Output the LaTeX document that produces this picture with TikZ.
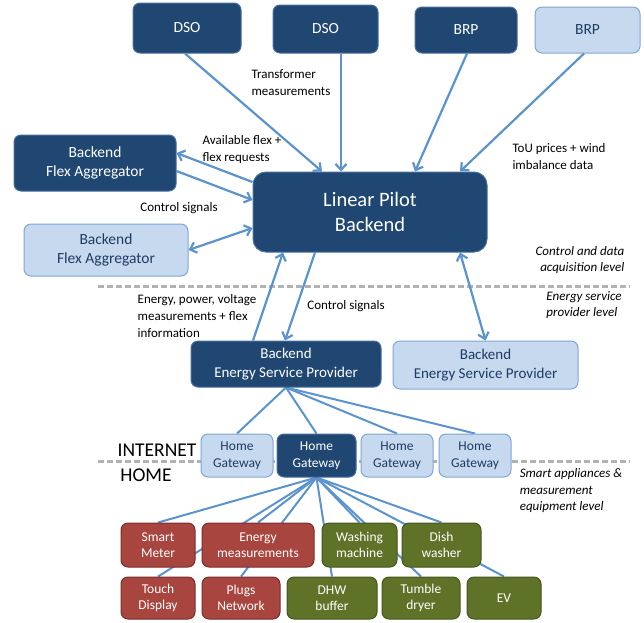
\documentclass[tikz,border=0pt]{standalone}
\usepackage{fontspec}
\setmainfont{Carlito}
\usetikzlibrary{arrows.meta,backgrounds}
\definecolor{darkfill}{RGB}{31,71,113}
\definecolor{darkline}{RGB}{70,110,160}
\definecolor{lightfill}{RGB}{198,217,239}
\definecolor{lightline}{RGB}{126,166,214}
\definecolor{lighttext}{RGB}{30,60,100}
\definecolor{redfill}{RGB}{169,69,63}
\definecolor{redline}{RGB}{120,45,45}
\definecolor{greenfill}{RGB}{95,115,40}
\definecolor{greenline}{RGB}{70,85,30}
\definecolor{wire}{RGB}{90,147,205}
\begin{document}
\begin{tikzpicture}
[x=1pt,y=-1pt,%
  box/.style={rounded corners=7pt,line width=1pt,align=center,inner sep=2pt,%
    font=\fontsize{15.5}{19}\selectfont},%
  darkbox/.style={box,draw=darkline,fill=darkfill,text=white},%
  lightbox/.style={box,draw=lightline,fill=lightfill,text=lighttext},%
  gwbox/.style={font=\fontsize{13.5}{16.5}\selectfont,minimum height=43pt},%
  redbox/.style={box,draw=redline,fill=redfill,text=white,%
    font=\fontsize{13.5}{16}\selectfont},%
  greenbox/.style={box,draw=greenline,fill=greenfill,text=white,%
    font=\fontsize{13.5}{16}\selectfont},%
  lbl/.style={align=left,inner sep=0pt,font=\fontsize{13}{17}\selectfont},%
  lvl/.style={inner sep=0pt,font=\fontsize{13}{16.5}\selectfont\itshape},%
  flow/.style={draw=wire,line width=2.2pt},%
  arr/.style={flow,-{Straight Barb[length=6pt,width=11pt]}},%
  darr/.style={flow,{Straight Barb[length=6pt,width=11pt]}-{Straight Barb[length=6pt,width=11pt]}},%
  sep/.style={draw=black!30,line width=3pt,dash pattern=on 6pt off 3pt}]
\useasboundingbox (0,0) rectangle (644,622);
% top level
\node[darkbox,minimum width=108pt,minimum height=50pt] (dsoa) at (187,28) {DSO};
\node[darkbox,minimum width=105pt,minimum height=48pt] (dsob) at (325.5,29) {DSO};
\node[darkbox,minimum width=102pt,minimum height=46pt] (brpa) at (466,30) {BRP};
\node[lightbox,minimum width=105pt,minimum height=46pt] (brpb) at (587.5,30) {BRP};
\node[darkbox,minimum width=162pt,minimum height=56pt] (bfaa) at (95,163)
  {Backend\\Flex Aggregator};
\node[darkbox,rounded corners=13pt,minimum width=234pt,minimum height=80pt,%
  font=\fontsize{20.5}{25}\selectfont] (lpb) at (370,212) {Linear Pilot\\Backend};
\node[lightbox,minimum width=164pt,minimum height=52pt] (bfab) at (106,250)
  {Backend\\Flex Aggregator};
% energy service providers
\node[darkbox,minimum width=190pt,minimum height=46pt,%
  font=\fontsize{15}{18.3}\selectfont] (espa) at (286,364)
  {Backend\\Energy Service Provider};
\node[lightbox,minimum width=185pt,minimum height=48pt,%
  font=\fontsize{15}{18.3}\selectfont] (espb) at (485.5,365)
  {Backend\\Energy Service Provider};
% gateways
\node[lightbox,gwbox,minimum width=72pt] (gwa) at (237,455.5) {Home\\Gateway};
\node[darkbox,gwbox,minimum width=79pt] (gwb) at (316.5,455.5) {Home\\Gateway};
\node[lightbox,gwbox,minimum width=72pt] (gwc) at (397,455.5) {Home\\Gateway};
\node[lightbox,gwbox,minimum width=72pt] (gwd) at (475,455.5) {Home\\Gateway};
% devices
\node[redbox,minimum width=74pt,minimum height=44pt] (meter) at (158,545) {Smart\\Meter};
\node[redbox,minimum width=112pt,minimum height=44pt] (emeas) at (258,545) {Energy\\measurements};
\node[greenbox,minimum width=75pt,minimum height=44pt] (wash) at (359.5,545) {Washing\\machine};
\node[greenbox,minimum width=79pt,minimum height=44pt] (dish) at (441.5,545) {Dish\\washer};
\node[redbox,minimum width=74pt,minimum height=42pt] (touch) at (158,598) {Touch\\Display};
\node[redbox,minimum width=78pt,minimum height=42pt] (plugs) at (241,598) {Plugs\\Network};
\node[greenbox,minimum width=90pt,minimum height=42pt] (dhw) at (332,598) {DHW\\buffer};
\node[greenbox,minimum width=78pt,minimum height=42pt] (dryer) at (421,598) {Tumble\\dryer};
\node[greenbox,minimum width=74pt,minimum height=42pt] (ev) at (504,598) {EV};
% texts
\node[lbl] (ltrans) at (291,83) {Transformer\\measurements};
\node[lbl] (lflex) at (242,150) {Available flex +\\flex requests};
\node[lbl] (lctrla) at (179,208) {Control signals};
\node[lbl] (ltou) at (559,157) {ToU prices + wind\\imbalance data};
\node[lbl] (lmeas) at (197,316) {Energy, power, voltage\\measurements + flex\\information};
\node[lbl] (lctrlb) at (346,306) {Control signals};
\node[lvl,align=right] (lvla) at (580,260) {Control and data\\acquisition level};
\node[lvl,align=left] (lvlb) at (584,305) {Energy service\\provider level};
\node[lvl,align=left] (lvlc) at (571,491) {Smart appliances \&\\measurement\\equipment level};
\node[inner sep=0pt,font=\fontsize{19.5}{22}\selectfont] (inet) at (157,450) {INTERNET};
\node[inner sep=0pt,font=\fontsize{19.5}{22}\selectfont] (home) at (146,475) {HOME};
% arrows
\draw[arr] ([xshift=-2pt]dsoa.south) -- ([xshift=-48pt]lpb.north);
\draw[arr] ([xshift=15.5pt]dsob.south) -- ([xshift=-29pt]lpb.north);
\draw[arr] ([xshift=1pt]brpa.south) -- ([xshift=45pt]lpb.north);
\draw[arr] ([xshift=-3.5pt]brpb.south) -- ([xshift=90pt]lpb.north);
\draw[arr] ([yshift=30pt]lpb.west) -- ([yshift=10pt]bfaa.east);
\draw[arr] ([yshift=-8pt]bfaa.east) -- ([yshift=12pt]lpb.west);
\draw[darr] (bfab.east) -- ([yshift=-16pt]lpb.west);
\draw[arr] ([xshift=-33pt]espa.north) -- ([xshift=-87pt]lpb.south);
\draw[arr] ([xshift=-55pt]lpb.south) -- ([xshift=-1pt]espa.north);
\draw[darr] ([xshift=90pt]lpb.south) -- (espb.north);
\begin{pgfonlayer}{background}
\draw[sep] (98,286) -- (630,286);
\draw[sep] (98,461) -- (630,461);
\foreach \g in {gwa,gwb,gwc,gwd}
  \draw[flow,line width=2pt] (espa.south) -- (\g.north);
\foreach \d in {meter,emeas,wash,dish,touch,plugs,dhw,dryer,ev}
  \draw[flow,line width=2pt] (gwb.south) -- (\d.north);
\end{pgfonlayer}
\end{tikzpicture}
\end{document}
